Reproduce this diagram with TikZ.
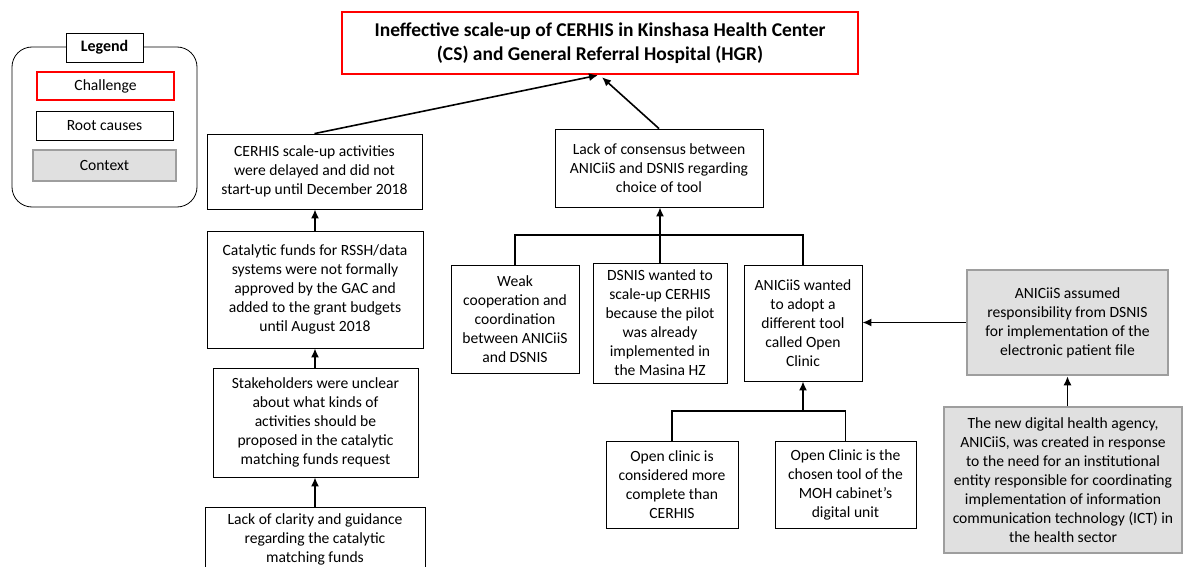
\documentclass[tikz,border=0pt]{standalone}
\usepackage{fontspec}
\setmainfont{Carlito}
\usetikzlibrary{shapes,arrows,arrows.meta,positioning,calc}

\begin{document}
\begin{tikzpicture}[x=1pt, y=-1pt,
    every node/.style={font=\fontsize{15.6}{19}\selectfont, align=center},
    cause/.style={draw, fill=white, line width=0.8pt, inner sep=1pt},
    challenge/.style={draw=red, fill=white, line width=2.5pt},
    context/.style={draw=black!38, fill=black!12, line width=2.5pt, inner sep=1pt},
    link/.style={-{Latex[length=9pt,width=8pt]}, line width=1.6pt}]
    \useasboundingbox (0,0) rectangle (1184,567);

    % legend
    \node[draw, rounded corners=20pt, line width=0.8pt, minimum width=185pt, minimum height=160pt] (legend) at (104.5,127) {};
    \node[draw, fill=white, line width=0.8pt, minimum width=77pt, minimum height=29pt, font=\fontsize{16}{19}\selectfont\bfseries] (legtitle) at (104.5,47.5) {Legend};
    \node[challenge, minimum width=137pt, minimum height=28pt] (legchall) at (105.5,86) {Challenge};
    \node[cause, minimum width=137pt, minimum height=29pt] (legroot) at (104.5,125.5) {Root causes};
    \node[context, minimum width=143pt, minimum height=31pt] (legcont) at (104.5,165.5) {Context};

    % challenge
    \node[challenge, minimum width=516pt, minimum height=62pt, font=\fontsize{19.5}{24.5}\selectfont\bfseries] (title) at (600,43)
        {Ineffective scale-up of CERHIS in Kinshasa Health Center\\(CS) and General Referral Hospital (HGR)};

    % left chain
    \node[cause, minimum width=215pt, minimum height=75pt] (delayed) at (314.5,171.5)
        {CERHIS scale-up activities\\were delayed and did not\\start-up until December 2018};
    \node[cause, minimum width=216pt, minimum height=117pt] (funds) at (315,289.5)
        {Catalytic funds for RSSH/data\\systems were not formally\\approved by the GAC and\\added to the grant budgets\\until August 2018};
    \node[cause, minimum width=205pt, minimum height=109pt] (unclear) at (315.5,422.5)
        {Stakeholders were unclear\\about what kinds of\\activities should be\\proposed in the catalytic\\matching funds request};
    \node[cause, minimum width=220pt, minimum height=64pt] (guidance) at (315,539)
        {Lack of clarity and guidance\\regarding the catalytic\\matching funds};

    % middle tree
    \node[cause, minimum width=208pt, minimum height=78pt] (consensus) at (659,168)
        {Lack of consensus between\\ANICiiS and DSNIS regarding\\choice of tool};
    \node[cause, minimum width=128pt, minimum height=108pt] (weak) at (515,319)
        {Weak\\cooperation and\\coordination\\between ANICiiS\\and DSNIS};
    \node[cause, minimum width=134pt, minimum height=120pt] (dsnis) at (660,323)
        {DSNIS wanted to\\scale-up CERHIS\\because the pilot\\was already\\implemented in\\the Masina HZ};
    \node[cause, minimum width=118pt, minimum height=116pt] (aniciis) at (803,323)
        {ANICiiS wanted\\to adopt a\\different tool\\called Open\\Clinic};
    \node[cause, minimum width=132pt, minimum height=87pt] (complete) at (672,484.5)
        {Open clinic is\\considered more\\complete than\\CERHIS};
    \node[cause, minimum width=141pt, minimum height=87pt] (chosen) at (845.5,484.5)
        {Open Clinic is the\\chosen tool of the\\MOH cabinet’s\\digital unit};

    % context
    \node[context, minimum width=201pt, minimum height=105pt] (assumed) at (1067.5,322.5)
        {ANICiiS assumed\\responsibility from DSNIS\\for implementation of the\\electronic patient file};
    \node[context, minimum width=238pt, minimum height=146pt] (agency) at (1063,480)
        {The new digital health agency,\\ANICiiS, was created in response\\to the need for an institutional\\entity responsible for coordinating\\implementation of information\\communication technology (ICT) in\\the health sector};

    \coordinate (join) at (dsnis.north |- 0,235);
    \coordinate (join2) at (aniciis.south |- 0,411);

    \draw[link] (delayed.north) -- ($(title.south)+(-2,0)$);
    \draw[link] (consensus.north) -- ($(title.south)+(2,2)$);
    \draw[link] (funds.north) -- (funds.north |- delayed.south);
    \draw[link] (unclear.north -| funds.north) -- (funds.south);
    \draw[link] (guidance.north -| funds.north) -- (unclear.south -| funds.north);
    \draw[line width=1.8pt] (weak.north) |- (join) -| (aniciis.north);
    \draw[link] (dsnis.north) -- (dsnis.north |- consensus.south);
    \draw[line width=1.8pt] (complete.north) |- (join2) -| (chosen.north);
    \draw[link] (join2) -- (aniciis.south);
    \draw[link] (assumed.west) -- (aniciis.east |- assumed.west);
    \draw[link] (assumed.south |- agency.north) -- (assumed.south);
\end{tikzpicture}
\end{document}
